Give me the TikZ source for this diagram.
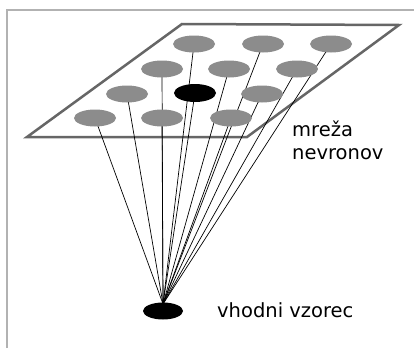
\documentclass[tikz,border=0pt]{standalone}
\usepackage{fontspec}
\setmainfont{DejaVu Sans}
\usetikzlibrary{shapes.geometric}
\begin{document}
\begin{tikzpicture}[x=1pt,y=-1pt,
  neuron/.style={ellipse,fill=black!45,draw=none,minimum width=42pt,minimum height=17pt,inner sep=0pt},
  winner/.style={ellipse,fill=black,minimum width=42pt,minimum height=18pt,inner sep=0pt},
  link/.style={draw=black,line width=0.7pt},
  lbl/.style={anchor=base west,inner sep=0pt,font=\fontsize{19.5}{23}\selectfont}]
\useasboundingbox (0,0) rectangle (414,348);
\fill[white] (0,0) rectangle (414,348);
% frame
\draw[gray!60,line width=1.5pt] (7,348) -- (7,10) -- (414,10);
% grid plane
\coordinate (p1) at (182,24);
\coordinate (p2) at (399,25);
\coordinate (p3) at (247,137);
\coordinate (p4) at (27,137);
\draw[draw=black!60,line width=2.5pt,line join=miter] (p1) -- (p2) -- (p3) -- (p4) -- cycle;
% input
\node[winner,minimum width=40pt,minimum height=17pt] (in) at (163,311) {};
\coordinate (f) at (163,304);
% neuron positions
\coordinate (n11) at (194,44);
\coordinate (n12) at (263,44);
\coordinate (n13) at (331,44);
\coordinate (n21) at (162,69);
\coordinate (n22) at (229,69);
\coordinate (n23) at (297,69);
\coordinate (n31) at (127,94);
\coordinate (n32) at (195,93);
\coordinate (n33) at (262,94);
\coordinate (n41) at (95,118);
\coordinate (n42) at (162,118);
\coordinate (n43) at (231,118);
% links
\foreach \n in {n11,n12,n13,n21,n22,n23,n31,n32,n33,n41,n42,n43}
  \draw[link] (\n) -- (f);
% neurons
\foreach \n in {n11,n12,n13,n21,n22,n23,n31,n33,n41,n42,n43}
  \node[neuron] (e\n) at (\n) {};
\node[winner] (w) at (n32) {};
% labels
\node[lbl] (t1) at (292,136) {mreža};
\node[lbl] (t2) at (292,159) {nevronov};
\node[lbl] (t3) at (217,317) {vhodni vzorec};
\end{tikzpicture}
\end{document}
